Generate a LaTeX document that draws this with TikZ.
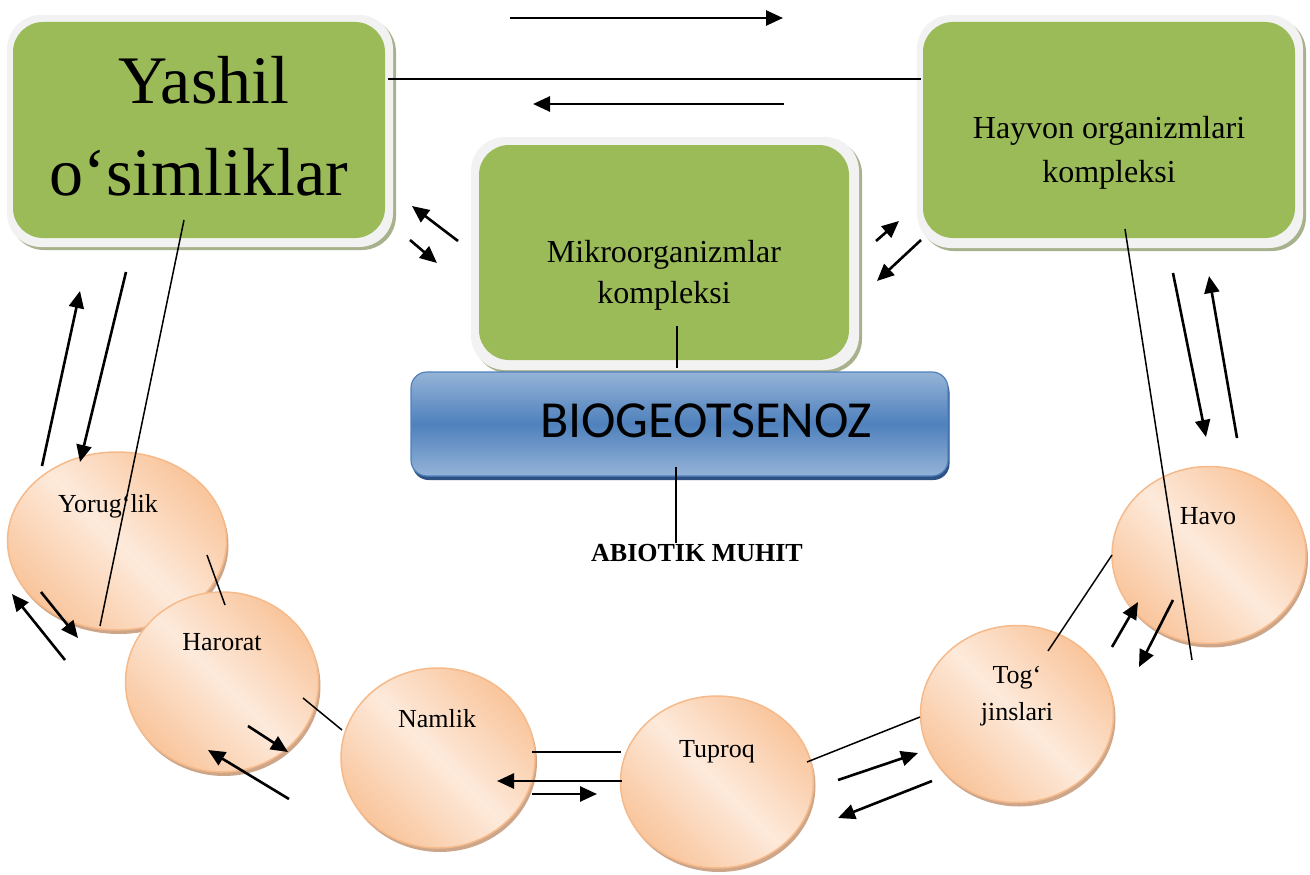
\documentclass[tikz,border=0pt]{standalone}
\usepackage{fontspec}
\setmainfont{Liberation Serif}
\newfontfamily\calib{Carlito}
\usetikzlibrary{shapes.geometric,arrows.meta}
\definecolor{boxgreen}{HTML}{9BBB59}
\definecolor{boxframe}{HTML}{F2F2F2}
\definecolor{boxshadow}{HTML}{A7B28C}
\definecolor{peachD}{HTML}{F9C59C}
\definecolor{peachL}{HTML}{FDEADB}
\definecolor{peachLine}{HTML}{F6BA8A}
\definecolor{peachShadow}{HTML}{CDA68A}
\definecolor{blueL}{HTML}{95B3D7}
\definecolor{blueM}{HTML}{4F81BD}
\definecolor{blueD}{HTML}{2E5283}
\begin{document}
\begin{tikzpicture}[x=1pt,y=-1pt,
  thinline/.style={line width=1.5pt},
  arr/.style={line width=2.6pt,-{Triangle[length=17pt,width=15pt]}},
  frame/.style={rectangle,rounded corners=34pt,fill=boxframe,inner sep=0pt},
  frameshadow/.style={rectangle,rounded corners=34pt,fill=boxshadow,inner sep=0pt},
  greenbox/.style={rectangle,rounded corners=30pt,fill=boxgreen,inner sep=0pt},
  circ/.style={ellipse,draw=peachLine,line width=1.5pt,top color=peachD,bottom color=peachD,middle color=peachL,shading angle=-45,inner sep=0pt},
  circshadow/.style={ellipse,fill=peachShadow,inner sep=0pt},
  lbl/.style={font=\fontsize{26pt}{30pt}\selectfont,anchor=base,inner sep=0pt},
  glbl/.style={font=\fontsize{32pt}{38pt}\selectfont,anchor=base,inner sep=0pt}
]
\useasboundingbox (0,0) rectangle (1310,875);

% ---------- green boxes ----------
% Yashil
\node[frameshadow,minimum width=386pt,minimum height=232pt] at (203,134) {};
\node[frame,minimum width=386pt,minimum height=232pt] (yashilF) at (200,131) {};
\node[greenbox,minimum width=372pt,minimum height=216pt] (yashil) at (199,130) {};
\node[font=\fontsize{68pt}{80pt}\selectfont,anchor=base,inner sep=0pt] (y1) at (204,103) {Yashil};
\node[font=\fontsize{68pt}{80pt}\selectfont,anchor=base,inner sep=0pt] (y2) at (199,195) {o‘simliklar};

% Hayvon
\node[frameshadow,minimum width=386pt,minimum height=233pt] at (1113,134.5) {};
\node[frame,minimum width=386pt,minimum height=233pt] (hayvonF) at (1110,131.5) {};
\node[greenbox,minimum width=372pt,minimum height=216pt] (hayvon) at (1109,130) {};
\node[glbl] (h1) at (1109,138) {Hayvon organizmlari};
\node[glbl] (h2) at (1109,182) {kompleksi};

% Mikro
\node[frameshadow,minimum width=388pt,minimum height=233pt] at (668,256.5) {};
\node[frame,minimum width=388pt,minimum height=233pt] (mikroF) at (665,253.5) {};
\node[greenbox,minimum width=370pt,minimum height=215pt] (mikro) at (664,252.5) {};
\node[glbl] (m1) at (664,262) {Mikroorganizmlar};
\node[glbl] (m2) at (664,303) {kompleksi};

% ---------- BIOGEOTSENOZ ----------
\node[rectangle,rounded corners=16pt,fill=blueD,minimum width=537pt,minimum height=104pt,inner sep=0pt] at (681,428) {};
\node[rectangle,rounded corners=16pt,draw=blueM,line width=1.2pt,top color=blueL,bottom color=blueL,middle color=blueM,minimum width=537pt,minimum height=104pt,inner sep=0pt] (bio) at (679.5,424) {};
\node[font=\calib\fontsize{52pt}{60pt}\selectfont,anchor=base,inner sep=0pt] (biot) at (706,437) {BIOGEOTSENOZ};
\node[font=\bfseries\fontsize{26pt}{30pt}\selectfont,anchor=base,inner sep=0pt] (abio) at (697,561) {ABIOTIK MUHIT};

% ---------- ellipses ----------
\node[circshadow,minimum width=219pt,minimum height=178pt] at (119,545) {};
\node[circ,minimum width=219pt,minimum height=178pt] (yor) at (117,541) {};
\node[circshadow,minimum width=193pt,minimum height=180pt] at (224,686) {};
\node[circ,minimum width=193pt,minimum height=180pt] (har) at (222,682) {};
\node[circshadow,minimum width=194pt,minimum height=180pt] at (440,762) {};
\node[circ,minimum width=194pt,minimum height=180pt] (nam) at (438,758) {};
\node[circshadow,minimum width=193pt,minimum height=172pt] at (719,786) {};
\node[circ,minimum width=193pt,minimum height=172pt] (tup) at (717,782) {};
\node[circshadow,minimum width=193pt,minimum height=177pt] at (1019,718) {};
\node[circ,minimum width=193pt,minimum height=177pt] (tog) at (1017,714) {};
\node[circshadow,minimum width=194pt,minimum height=177pt] at (1211,559) {};
\node[circ,minimum width=194pt,minimum height=177pt] (hav) at (1209,555) {};

\node[lbl] (yorT) at (108,512) {Yorug‘lik};
\node[lbl] (harT) at (222,650) {Harorat};
\node[lbl] (namT) at (437,727) {Namlik};
\node[lbl] (tupT) at (717,757) {Tuproq};
\node[lbl] (togT1) at (1017,683) {Tog‘};
\node[lbl] (togT2) at (1017,720) {jinslari};
\node[lbl] (havT) at (1208,524) {Havo};

% ---------- thin connector lines ----------
\draw[thinline] (388,79) -- (921,79);
\draw[thinline] (677,326) -- (677,368);
\draw[thinline] (676,467) -- (676,543);
\draw[thinline] (184,220) -- (100,626);
\draw[thinline] (1125,229) -- (1192,660);
\draw[thinline] (207,555) -- (225,605);
\draw[thinline] (303,698) -- (342,730);
\draw[thinline] (532,752) -- (621,752);
\draw[thinline] (807,762) -- (920,717);
\draw[thinline] (1048,651) -- (1112,555);

% ---------- arrows ----------
\draw[arr] (510,18) -- (783,18);
\draw[arr] (784,104) -- (533,104);
\draw[arr] (42,466) -- (80,291);
\draw[arr] (126,272) -- (80,462);
\draw[arr] (458,241) -- (412,206);
\draw[arr] (410,240) -- (437,263);
\draw[arr] (876,241) -- (899,221);
\draw[arr] (921,240) -- (877,281);
\draw[arr] (1173,273) -- (1206,437);
\draw[arr] (1237,438) -- (1209,276);
\draw[arr] (65,660) -- (12,594);
\draw[arr] (41,592) -- (78,638);
\draw[arr] (248,726) -- (288,752);
\draw[arr] (289,799) -- (208,750);
\draw[arr] (622,781) -- (497,781);
\draw[arr] (532,794) -- (597,794);
\draw[arr] (838,780) -- (918,753);
\draw[arr] (932,781) -- (838,818);
\draw[arr] (1112,647) -- (1138,602);
\draw[arr] (1173,600) -- (1139,667);
\end{tikzpicture}
\end{document}
